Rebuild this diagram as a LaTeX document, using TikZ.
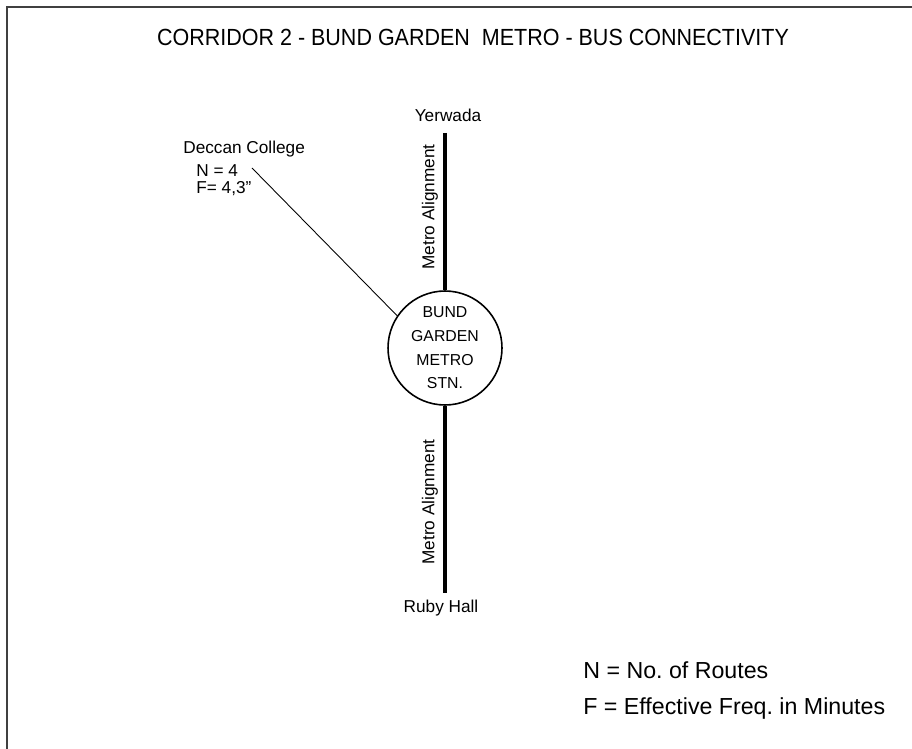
\documentclass[tikz,border=0pt]{standalone}
\usepackage{fontspec}
\setmainfont{Liberation Sans}
\begin{document}
\begin{tikzpicture}[x=0.02cm, y=-0.02cm, font=\fontsize{9.8}{11}\selectfont,
	metro/.style={line width=2.8pt},
	place/.style={inner sep=0pt},
	legend/.style={inner sep=0pt, anchor=west, font=\fontsize{13.2}{15}\selectfont}]
	\useasboundingbox (0,0) rectangle (912,749);
	% frame
	\draw[black!75, line width=1.2pt] (7,749) -- (7,7) -- (912,7);
	\node[place, xscale=0.92] (title) at (473,37) {\fontsize{13.3}{15}\selectfont CORRIDOR 2 - BUND GARDEN\ \ METRO - BUS CONNECTIVITY};
	% station
	\node[draw, circle, line width=0.9pt, minimum size=2.28cm, inner sep=0pt, align=center,
		font=\fontsize{9}{13.5}\selectfont] (stn) at (445,348) {BUND\\GARDEN\\METRO\\STN.};
	\coordinate (ytop) at (445,133);
	\coordinate (rbot) at (445,593);
	\draw[metro] (ytop) -- (stn.north);
	\draw[metro] (stn.south) -- (rbot);
	\node[place] (yerwada) at (448,115) {Yerwada};
	\node[place] (ruby) at (441,608) {Ruby Hall};
	\node[place, rotate=90] (algn1) at (430,207) {Metro Alignment};
	\node[place, rotate=90] (algn2) at (430,502) {Metro Alignment};
	% bus route
	\node[place, anchor=west] (deccan) at (183,149) {Deccan College};
	\node[place, anchor=west] (dn) at (196,171) {N = 4};
	\node[place, anchor=west] (df) at (196,189) {F= 4,3\symbol{"22}};
	\coordinate (dend) at (252,168);
	\draw[line width=0.5pt] (dend) -- (stn.146);
	% legend
	\node[legend] (legn) at (583,670) {N = No.\ of Routes};
	\node[legend] (legf) at (583,708) {F = Effective Freq.\ in Minutes};
\end{tikzpicture}
\end{document}
